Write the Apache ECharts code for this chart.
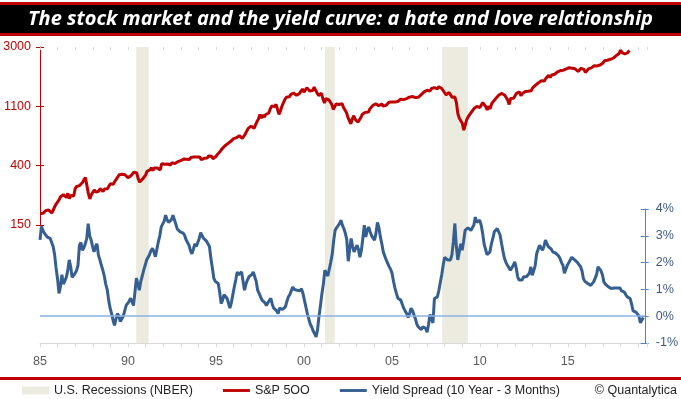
<!DOCTYPE html>
<html>
<head>
<meta charset="utf-8">
<script src="https://cdn.jsdelivr.net/npm/echarts@6/dist/echarts.min.js"></script>
<style>
html,body{margin:0;padding:0;background:#fff;}
#chart{width:681px;height:399px;}
</style>
</head>
<body>
<div id="chart"></div>
<script>
// ---- DATA ----
const titleText = 'The stock market and the yield curve: a hate and love relationship';
const seriesNames = ['U.S. Recessions (NBER)', 'S&P 5OO', 'Yield Spread (10 Year - 3 Months)'];
const creditText = '\u00A9 Quantalytica';
const xStartYear = 1985;
const xEndYear = 2019.5;
// NBER recessions (decimal years)
const recessionStart = [1990.47, 2001.2, 2007.86];
const recessionEnd = [1991.18, 2001.75, 2009.32];
// S&P 500 monthly, starting Jan 1985
const spxStart = 1985;
const spx = [
179.6,181.2,180.7,179.8,189.6,191.9,190.9,188.6,182.1,189.8,202.2,211.3,
211.8,226.9,238.9,235.5,247.4,250.8,236.1,252.9,231.3,244.0,249.2,242.2,
274.1,284.2,291.7,288.4,290.1,304.0,318.7,329.8,321.8,251.8,230.3,247.1,
257.1,267.8,258.9,261.3,262.2,273.5,272.0,261.5,271.9,279.0,273.7,277.7,
297.5,288.9,294.9,309.6,320.5,318.0,346.1,351.5,349.2,340.4,346.0,353.4,
329.1,331.9,339.9,330.8,361.2,358.0,356.2,322.6,306.1,304.0,322.2,330.2,
343.9,367.1,375.2,375.3,389.8,371.2,387.8,395.4,387.9,392.5,375.2,417.1,
408.8,412.7,403.7,415.0,415.4,408.1,424.2,414.0,417.8,418.7,431.4,435.7,
438.8,443.4,451.7,440.2,450.2,450.5,448.1,463.6,458.9,467.8,461.8,466.5,
481.6,467.1,445.8,450.9,456.5,444.3,458.3,475.5,462.7,472.4,453.7,459.3,
470.4,487.4,500.7,514.7,533.4,544.8,562.1,561.9,584.4,581.5,605.4,615.9,
636.0,640.4,645.5,654.2,669.1,670.6,640.0,652.0,687.3,705.3,757.0,740.7,
786.2,790.8,757.1,801.3,848.3,885.1,954.3,899.5,947.3,914.6,955.4,970.4,
980.3,1049.3,1101.8,1111.8,1090.8,1133.8,1120.7,957.3,1017.0,1098.7,1163.6,1229.2,
1279.6,1238.3,1286.4,1335.2,1301.8,1372.7,1328.7,1320.4,1282.7,1362.9,1388.9,1469.3,
1394.5,1366.4,1498.6,1452.4,1420.6,1454.6,1430.8,1517.7,1436.5,1429.4,1315.2,1320.3,
1366.0,1239.9,1160.3,1249.5,1255.8,1224.4,1211.2,1133.6,1040.9,1059.8,1139.5,1148.1,
1130.2,1106.7,1147.4,1076.9,1067.1,989.8,911.6,916.1,815.3,885.8,936.3,879.8,
855.7,841.2,848.2,916.9,963.6,974.5,990.3,1008.0,996.0,1050.7,1058.2,1111.9,
1131.1,1144.9,1126.2,1107.3,1120.7,1140.8,1101.7,1104.2,1114.6,1130.2,1173.8,1211.9,
1181.3,1203.6,1180.6,1156.9,1191.5,1191.3,1234.2,1220.3,1228.8,1207.0,1249.5,1248.3,
1280.1,1280.7,1294.9,1310.6,1270.1,1270.2,1276.7,1303.8,1335.9,1377.9,1400.6,1418.3,
1438.2,1406.8,1420.9,1482.4,1530.6,1503.4,1455.3,1474.0,1526.8,1549.4,1481.1,1468.4,
1378.6,1330.6,1322.7,1385.6,1400.4,1280.0,1267.4,1282.8,1166.4,968.8,896.2,903.3,
825.9,735.1,797.9,872.8,919.1,919.3,987.5,1020.6,1057.1,1036.2,1095.6,1115.1,
1073.9,1104.5,1169.4,1186.7,1089.4,1030.7,1101.6,1049.3,1141.2,1183.3,1180.6,1257.6,
1286.1,1327.2,1325.8,1363.6,1345.2,1320.6,1292.3,1218.9,1131.4,1253.3,1247.0,1257.6,
1312.4,1365.7,1408.5,1397.9,1310.3,1362.2,1379.3,1406.6,1440.7,1412.2,1416.2,1426.2,
1498.1,1514.7,1569.2,1597.6,1630.7,1606.3,1685.7,1633.0,1681.6,1756.5,1805.8,1848.4,
1782.6,1859.5,1872.3,1884.0,1923.6,1960.2,1930.7,2003.4,1972.3,2018.1,2067.6,2058.9,
1995.0,2104.5,2067.9,2085.5,2107.4,2063.1,2103.8,1972.2,1920.0,2079.4,2080.4,2043.9,
1940.2,1932.2,2059.7,2065.3,2097.0,2098.9,2173.6,2171.0,2168.3,2126.2,2198.8,2238.8,
2278.9,2363.6,2362.7,2384.2,2411.8,2423.4,2470.3,2471.7,2519.4,2575.3,2647.6,2673.6,
2823.8,2713.8,2640.9,2648.1,2705.3,2718.4,2816.3
];
// 10y - 3m spread (%) monthly, starting Jan 1985
const spreadStart = 1985;
const spread = [
2.85,3.35,3.2,3.1,3.15,2.95,3.0,2.9,2.95,2.6,2.3,1.8,
1.4,0.85,1.1,1.55,1.2,1.15,1.45,1.7,2.1,1.85,1.45,1.5,
1.6,1.7,1.9,2.65,2.75,2.46,2.55,2.7,2.9,3.45,3.0,2.84,
2.6,2.4,2.6,2.7,2.28,2.1,1.9,1.72,1.5,1.2,1.0,0.6,
0.3,0.1,-0.15,-0.34,-0.1,0.1,0.0,-0.2,-0.1,0.0,0.2,0.4,
0.45,0.55,0.67,0.67,0.4,0.9,1.42,1.2,0.97,1.3,1.5,1.72,
1.9,2.1,2.16,2.3,2.45,2.53,2.4,2.22,2.5,2.77,3.0,3.33,
3.4,3.55,3.77,3.6,3.5,3.43,3.6,3.77,3.7,3.43,3.25,3.2,
3.15,3.12,3.1,3.02,2.85,2.75,2.65,2.45,2.33,2.5,2.7,2.6,
2.75,2.9,3.12,3.0,2.9,2.86,2.8,2.77,2.6,2.15,1.8,1.41,
1.3,1.25,1.22,0.9,0.47,0.6,0.8,0.75,0.67,0.5,0.3,0.5,
0.8,1.09,1.35,1.65,1.55,1.6,1.65,1.3,0.97,1.2,1.35,1.47,
1.5,1.55,1.65,1.72,1.3,0.97,0.85,0.72,0.6,0.55,0.5,0.4,
0.5,0.55,0.67,0.45,0.3,0.25,0.2,0.1,0.3,0.3,0.25,0.2,
0.35,0.55,0.72,0.8,0.95,1.09,1.0,1.05,0.97,1.0,0.95,1.03,
0.85,0.6,0.35,0.1,-0.1,-0.3,-0.4,-0.55,-0.65,-0.77,-0.5,0.0,
0.4,0.85,1.2,1.72,1.6,1.5,1.47,2.0,2.3,2.8,3.2,3.3,
3.33,3.45,3.58,3.4,3.27,3.1,2.86,2.05,2.5,2.9,2.6,2.4,
2.4,2.65,2.5,2.2,2.45,2.9,3.4,2.96,3.2,3.33,3.15,3.0,
2.95,2.84,3.1,3.5,3.3,2.96,2.7,2.4,2.25,2.1,2.05,1.85,
1.75,1.6,1.3,1.05,0.85,0.67,0.72,0.6,0.45,0.3,0.19,0.1,
-0.05,0.1,0.3,0.2,0.15,-0.1,-0.3,-0.4,-0.45,-0.5,-0.4,-0.35,
-0.45,-0.6,-0.3,0.06,-0.1,-0.25,0.66,0.6,0.72,0.95,1.25,1.55,
1.9,2.2,2.15,2.1,2.05,2.1,2.3,2.8,3.46,2.6,2.1,2.4,
2.7,2.46,2.8,3.2,3.25,3.3,3.27,3.2,3.15,3.4,3.7,3.5,
3.5,3.58,3.4,3.1,2.7,2.5,2.3,2.35,2.4,2.7,2.9,3.15,
3.2,3.27,3.15,3.02,2.7,2.4,2.15,2.0,1.9,1.85,1.72,1.8,
1.9,2.03,1.8,1.47,1.35,1.28,1.35,1.47,1.5,1.47,1.47,1.6,
1.84,1.53,1.7,1.9,2.33,2.5,2.65,2.55,2.46,2.6,2.84,2.7,
2.6,2.55,2.5,2.4,2.35,2.35,2.33,2.25,2.15,2.0,1.9,1.6,
1.75,1.9,2.0,2.1,2.2,2.15,2.1,2.03,2.0,1.96,1.85,1.7,
1.4,1.3,1.25,1.22,1.2,1.15,1.2,1.28,1.35,1.55,1.84,1.78,
1.7,1.55,1.28,1.2,1.15,1.1,1.05,1.03,1.09,1.05,1.03,1.05,
1.0,1.05,0.95,0.9,0.9,0.8,0.72,0.68,0.66,0.45,0.2,0.2,
0.15,0.1,0.0,-0.25,-0.2,-0.05
];
// left log axis: natural log base, ticks e^5..e^8
const spxAxisMinExp = 5;
const spxAxisMaxExp = 8;
const spreadAxisMin = -1;
const spreadAxisMax = 4;

// ---- BUILD ----
const FONT = 'Liberation Sans';
const RED = '#c00000';
const BLUE = '#365f91';
const monthly = (start, arr) => arr.map((v, i) => [start + i / 12, v]);
const spxData = monthly(spxStart, spx);
const spreadData = monthly(spreadStart, spread);
const recessionAreas = recessionStart.map((s, i) => [{xAxis: s}, {xAxis: recessionEnd[i]}]);

const GL = 40, GR = 34;
const baseX = (gi, show) => ({
  type: 'value', gridIndex: gi, min: xStartYear, max: xEndYear, interval: 1,
  show: show, splitLine: {show: false}
});

const chart = echarts.init(document.getElementById('chart'), null, {renderer: 'canvas'});
chart.setOption({
  animation: false,
  backgroundColor: '#ffffff',
  title: {
    text: titleText, left: 'center', top: 8, padding: 0,
    textStyle: {color: '#ffffff', fontStyle: 'italic', fontWeight: 'bold', fontSize: 20, fontFamily: 'Open Sans', lineHeight: 22}
  },
  graphic: [
    {type: 'rect', z: -1, shape: {x: 0, y: 2, width: 681, height: 34}, style: {fill: RED}},
    {type: 'rect', z: -1, shape: {x: 0, y: 5, width: 681, height: 28}, style: {fill: '#000000'}},
    {type: 'rect', shape: {x: 0, y: 377, width: 681, height: 3}, style: {fill: RED}},
    {type: 'text', right: 4, top: 384, style: {text: creditText, fill: '#222', fontSize: 12.5, fontFamily: FONT}}
  ],
  legend: {
    left: 22, top: 384, itemWidth: 27, itemHeight: 8, itemGap: 30, padding: 0,
    symbolKeepAspect: true,
    textStyle: {fontSize: 12.5, fontFamily: FONT, color: '#222'},
    data: [
      {name: seriesNames[0], icon: 'rect', itemStyle: {color: '#ecebe0'}},
      {name: seriesNames[1], icon: 'path://M0,0h28v3h-28z', itemStyle: {color: RED}},
      {name: seriesNames[2], icon: 'path://M0,0h28v3h-28z', itemStyle: {color: BLUE}}
    ]
  },
  grid: [
    {left: GL, right: GR, top: 47, bottom: 56},
    {left: GL, right: GR, top: 47, height: 178},
    {left: GL, right: GR, top: 209, bottom: 56}
  ],
  xAxis: [
    Object.assign(baseX(0, true), {
      axisLine: {show: true, lineStyle: {color: '#d9d9d9', width: 1}},
      axisTick: {show: true, length: 4, lineStyle: {color: '#d9d9d9'}},
      axisLabel: {
        margin: 12, color: '#595959', fontSize: 12.5, fontFamily: FONT,
        formatter: v => (Math.abs(v % 5) < 1e-9 ? String(Math.round(v) % 100).padStart(2, '0') : '')
      }
    }),
    Object.assign(baseX(0, true), {
      axisLine: {show: false}, axisLabel: {show: false},
      axisTick: {show: true, inside: true, length: 3, lineStyle: {color: '#d9d9d9'}}
    }),
    baseX(1, false),
    baseX(2, false)
  ],
  yAxis: [
    {type: 'value', gridIndex: 0, min: 0, max: 1, show: false},
    {
      type: 'log', logBase: Math.E, gridIndex: 1, position: 'left',
      min: Math.exp(spxAxisMinExp), max: Math.exp(spxAxisMaxExp), interval: 1,
      splitLine: {show: false},
      axisLine: {show: true, lineStyle: {color: RED, width: 1}},
      axisTick: {show: true, length: 4, lineStyle: {color: RED}},
      axisLabel: {margin: 9, color: RED, fontSize: 12.5, fontFamily: FONT,
        formatter: v => String(Number(Number(v).toPrecision(2)))}
    },
    {
      type: 'log', logBase: Math.E, gridIndex: 1, position: 'left',
      min: Math.exp(spxAxisMinExp), max: Math.exp(spxAxisMaxExp), interval: 1,
      splitLine: {show: false}, axisLine: {show: false}, axisLabel: {show: false},
      axisTick: {show: true, inside: true, length: 4, lineStyle: {color: RED}}
    },
    {
      type: 'value', gridIndex: 2, position: 'right',
      min: spreadAxisMin, max: spreadAxisMax, interval: 1,
      splitLine: {show: false},
      axisLine: {show: true, lineStyle: {color: '#4f81c9', width: 1}},
      axisTick: {show: true, length: 4, lineStyle: {color: '#4f81c9'}},
      axisLabel: {margin: 11, color: '#3e5a84', fontSize: 12.5, fontFamily: FONT, formatter: '{value}%'}
    },
    {
      type: 'value', gridIndex: 2, position: 'right',
      min: spreadAxisMin, max: spreadAxisMax, interval: 1,
      splitLine: {show: false}, axisLine: {show: false}, axisLabel: {show: false},
      axisTick: {show: true, inside: true, length: 4, lineStyle: {color: '#4f81c9'}}
    }
  ],
  series: [
    {
      name: seriesNames[0], type: 'line', xAxisIndex: 0, yAxisIndex: 0, data: [],
      color: '#ecebe0', silent: true, z: 0,
      markArea: {silent: true, itemStyle: {color: '#ecebe0', opacity: 1}, data: recessionAreas}
    },
    {
      name: seriesNames[1], type: 'line', xAxisIndex: 2, yAxisIndex: 1, data: spxData,
      showSymbol: false, symbol: 'none', color: RED, z: 3,
      lineStyle: {color: RED, width: 3}
    },
    {
      name: seriesNames[2], type: 'line', xAxisIndex: 3, yAxisIndex: 3, data: spreadData,
      showSymbol: false, symbol: 'none', color: BLUE, z: 3,
      lineStyle: {color: BLUE, width: 3},
      markLine: {
        silent: true, symbol: 'none', label: {show: false},
        lineStyle: {color: '#8db3e2', width: 1.5, type: 'solid'},
        data: [{yAxis: 0}]
      }
    }
  ]
});
</script>
</body>
</html>
